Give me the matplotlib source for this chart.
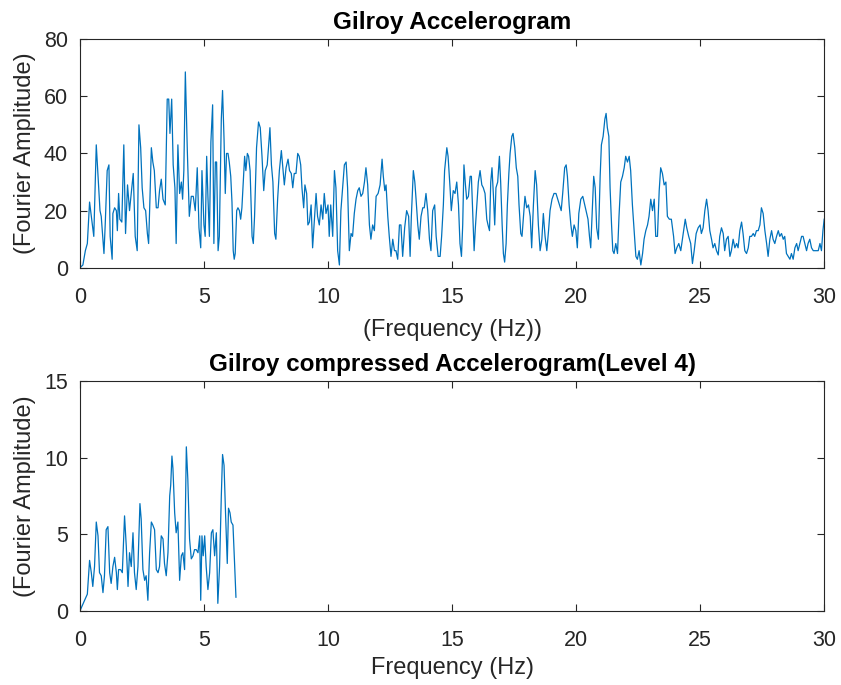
import numpy as np
import matplotlib
matplotlib.use("Agg")
import matplotlib.pyplot as plt

# ==========================================
# data
# ==========================================
# top panel: original accelerogram spectrum, 0-30 Hz
freq_top = [
    0.00, 0.12, 0.22, 0.30, 0.39, 0.46, 0.52, 0.56, 0.66, 0.75,
    0.81, 0.86, 0.91, 0.97, 1.02, 1.10, 1.17, 1.22, 1.30, 1.33,
    1.40, 1.47, 1.51, 1.56, 1.61, 1.69, 1.77, 1.84, 1.92, 2.00,
    2.07, 2.15, 2.23, 2.31, 2.38, 2.45, 2.51, 2.58, 2.65, 2.72,
    2.77, 2.81, 2.88, 2.94, 3.00, 3.08, 3.15, 3.21, 3.28, 3.35,
    3.44, 3.52, 3.58, 3.63, 3.70, 3.76, 3.83, 3.88, 3.95, 4.02,
    4.09, 4.14, 4.19, 4.25, 4.33, 4.41, 4.49, 4.57, 4.65, 4.73,
    4.80, 4.87, 4.92, 5.00,
    5.05, 5.11, 5.16, 5.22, 5.28, 5.35, 5.40, 5.46, 5.51, 5.57,
    5.62, 5.70, 5.75, 5.81, 5.86, 5.91, 5.97, 6.02, 6.08, 6.13,
    6.18, 6.22, 6.26, 6.32, 6.37, 6.43, 6.48, 6.53, 6.59, 6.64,
    6.69, 6.75, 6.80, 6.86, 6.94, 6.99, 7.04, 7.12, 7.20, 7.27,
    7.34, 7.41, 7.47, 7.55, 7.66, 7.72, 7.78, 7.85, 7.90, 7.97,
    8.04, 8.12, 8.17, 8.24, 8.31, 8.39, 8.45, 8.52, 8.58, 8.64,
    8.71, 8.78, 8.84, 8.90, 8.95, 9.02, 9.07, 9.14, 9.19, 9.25,
    9.32, 9.38, 9.44, 9.52, 9.58, 9.65, 9.72, 9.79, 9.85, 9.92,
    10.00,
    10.05, 10.11, 10.19, 10.26, 10.32, 10.39, 10.46, 10.52, 10.59, 10.66,
    10.73, 10.79, 10.86, 10.93, 10.99, 11.06, 11.13, 11.20, 11.26, 11.33,
    11.40, 11.47, 11.53, 11.60, 11.67, 11.73, 11.80, 11.87, 11.94, 12.02,
    12.10, 12.18, 12.23, 12.29, 12.34, 12.41, 12.47, 12.54, 12.61, 12.68,
    12.74, 12.81, 12.88, 12.94, 13.01, 13.09, 13.17, 13.25, 13.31, 13.36,
    13.44, 13.50, 13.55, 13.62, 13.68, 13.75, 13.82, 13.88, 13.95, 14.02,
    14.09, 14.15, 14.22, 14.30, 14.36, 14.44, 14.52, 14.58, 14.65, 14.70,
    14.79, 14.84, 14.92, 14.97,
    15.05, 15.12, 15.19, 15.26, 15.32, 15.38, 15.43, 15.48, 15.54, 15.59,
    15.66, 15.73, 15.78, 15.83, 15.89, 15.94, 16.00, 16.06, 16.13, 16.20,
    16.26, 16.33, 16.40, 16.45, 16.51, 16.56, 16.61, 16.67, 16.72, 16.77,
    16.84, 16.91, 16.96, 17.02, 17.07, 17.12, 17.18, 17.23, 17.29, 17.34,
    17.41, 17.46, 17.53, 17.59, 17.65, 17.70, 17.77, 17.82, 17.88, 17.94,
    18.01, 18.08, 18.15, 18.21, 18.28, 18.35, 18.41, 18.48, 18.55, 18.62,
    18.68, 18.75, 18.82, 18.89, 18.95, 19.03, 19.11, 19.19, 19.26, 19.33,
    19.40, 19.46, 19.54, 19.60, 19.65, 19.72, 19.79, 19.85, 19.92, 19.99,
    20.05, 20.11, 20.19, 20.27, 20.35, 20.43, 20.48, 20.54, 20.59, 20.66,
    20.71, 20.77, 20.83, 20.90, 20.97, 21.02, 21.09, 21.16, 21.21, 21.26,
    21.32, 21.37, 21.43, 21.48, 21.53, 21.60, 21.67, 21.73, 21.80, 21.87,
    21.94, 22.00, 22.07, 22.14, 22.20, 22.27, 22.34, 22.41, 22.47, 22.54,
    22.61, 22.68, 22.74, 22.81, 22.88, 22.94, 23.01, 23.08, 23.15, 23.21,
    23.28, 23.35, 23.41, 23.48, 23.55, 23.62, 23.68, 23.76, 23.84, 23.93,
    23.99, 24.06, 24.14, 24.22, 24.30, 24.40, 24.46, 24.54, 24.62, 24.69,
    24.76, 24.84, 24.92, 25.00,
    25.05, 25.12, 25.19, 25.26, 25.32, 25.39, 25.46, 25.52, 25.59, 25.66,
    25.73, 25.79, 25.86, 25.93, 25.99, 26.06, 26.13, 26.20, 26.26, 26.33,
    26.40, 26.47, 26.53, 26.60, 26.67, 26.73, 26.80, 26.87, 26.94, 27.00,
    27.07, 27.14, 27.20, 27.27, 27.34, 27.41, 27.47, 27.54, 27.61, 27.68,
    27.74, 27.81, 27.88, 27.94, 28.01, 28.08, 28.15, 28.21, 28.28, 28.35,
    28.41, 28.48, 28.55, 28.62, 28.68, 28.75, 28.82, 28.89, 28.95, 29.02,
    29.09, 29.15, 29.22, 29.29, 29.35, 29.42, 29.49, 29.56, 29.62, 29.69,
    29.76, 29.83, 29.89, 29.95, 30.00,
]
amp_top = [
    0, 1, 6, 8.5, 23, 18, 14, 11, 43, 29,
    20, 18, 12, 5, 15, 34, 36, 11, 3, 19,
    21, 20, 13, 26, 17, 16, 43, 12, 29, 20,
    26, 33, 11, 6, 50, 42, 28, 21, 20, 12,
    8.5, 20, 42, 37, 34, 21, 21, 27, 31, 24,
    22, 59, 59, 47, 59, 36, 28, 8.5, 43, 26,
    30, 24, 34, 68.5, 41, 18, 25, 25, 20, 35,
    14, 7, 34, 15,
    11, 39, 25, 11, 44, 57, 8.5, 37, 37, 6,
    11, 52, 62, 45, 26, 40, 40, 37, 32, 23,
    6, 3, 5, 20, 21, 20, 17, 21, 31, 39,
    34, 40, 39, 34, 11, 8.5, 18, 42, 51, 49,
    39, 27, 34, 36, 49, 36, 30, 12, 10, 24,
    34, 41, 36, 29, 35, 38, 34, 33, 28, 33,
    33, 40, 39, 36, 28, 21, 29, 26, 15, 16,
    22, 7, 15, 26, 18, 15, 22, 17, 26, 19,
    22,
    11, 22, 11, 34, 28, 6, 1, 20, 28, 36,
    37, 28, 6, 12, 11, 19, 24, 27, 28, 25,
    26, 30, 35, 29, 15, 10, 15, 13, 25, 26,
    29, 38, 32, 27, 29, 18, 11, 4, 10, 6,
    6, 3, 15, 15, 4, 14, 20, 18, 4, 18,
    34, 30, 24, 15, 10, 18, 21, 21, 26, 20,
    10, 6, 20, 22, 11, 4, 4, 11, 22, 34,
    42, 39, 28, 20,
    27, 26, 30, 22, 8.5, 4, 15, 36, 29, 24,
    25, 32, 32, 20, 6, 14, 22, 30, 34, 29,
    28, 26, 17, 15, 13, 30, 35, 25, 15, 28,
    30, 39, 30, 15, 5, 2, 8.5, 22, 33, 40,
    46, 47, 42, 35, 32, 22, 12, 11, 18, 25,
    21, 22, 18, 7, 22, 34, 29, 15, 6, 10,
    19, 11, 6, 13, 20, 24, 26, 26, 24, 22,
    20, 26, 35, 36, 32, 22, 15, 11, 15, 13,
    7, 19, 24, 25, 22, 19, 17, 11, 7, 22,
    32, 28, 14, 10, 32, 43, 46, 52, 54, 49,
    46, 28, 15, 6, 5, 8.5, 5, 18, 30, 32,
    35, 39, 37, 39, 34, 22, 13, 4, 3, 6,
    1, 5, 10, 13, 15, 18, 24, 20, 24, 11,
    11, 27, 35, 33, 29, 30, 18, 17, 17, 11,
    5, 7, 8.5, 6, 11, 17, 14, 11, 8.5, 1.5,
    6, 12, 14, 15,
    12, 14, 20, 24, 20, 13, 10, 7, 8.5, 6,
    4.5, 11, 14, 12, 6, 10, 11, 4, 6, 10,
    7, 8.5, 7, 13, 16, 12, 6, 5, 7, 11,
    11, 12, 11, 13, 13, 15, 21, 19, 13, 8.5,
    4, 10, 13, 10, 8.5, 11, 13, 11, 12, 10,
    11, 5, 4, 3, 5, 3, 7, 8.5, 6, 8.5,
    11, 11, 8.5, 6, 8.5, 10, 7, 6, 6, 6,
    6, 8.5, 6, 13, 17,
]

# bottom panel: compressed accelerogram (level 4), 0-6.3 Hz
freq_bot = [
    0.00, 0.19, 0.30, 0.39, 0.46, 0.52, 0.59, 0.66, 0.73, 0.79,
    0.86, 0.93, 0.99, 1.06, 1.13, 1.20, 1.26, 1.33, 1.40, 1.47,
    1.51, 1.56, 1.64, 1.71, 1.80, 1.87, 1.94, 2.00, 2.07, 2.14,
    2.20, 2.27, 2.34, 2.42, 2.47, 2.54, 2.61, 2.67, 2.74, 2.81,
    2.88, 2.94, 3.01, 3.08, 3.15, 3.21, 3.28, 3.35, 3.41, 3.48,
    3.55, 3.62, 3.66, 3.71, 3.75, 3.82, 3.88, 3.95, 4.02, 4.09,
    4.15, 4.22, 4.29, 4.35, 4.42, 4.49, 4.56, 4.62, 4.69, 4.76,
    4.83, 4.87, 4.92, 4.97, 5.03, 5.09, 5.16, 5.23, 5.30, 5.36,
    5.43, 5.50, 5.56, 5.63, 5.70, 5.75, 5.81, 5.87, 5.94, 5.99,
    6.05, 6.10, 6.17, 6.24, 6.29,
]
amp_bot = [
    0.0, 0.7, 1.1, 3.3, 2.5, 1.6, 2.9, 5.8, 4.9, 2.5,
    2.3, 1.2, 2.3, 5.3, 5.5, 2.5, 1.8, 2.9, 3.5, 2.5,
    1.4, 2.7, 2.7, 2.5, 6.2, 4.2, 1.6, 3.8, 2.9, 5.1,
    2.5, 1.4, 2.9, 7.0, 6.0, 2.7, 2.0, 2.3, 0.7, 3.8,
    5.8, 5.6, 5.3, 2.7, 2.5, 2.9, 4.9, 4.7, 3.1, 2.3,
    3.8, 7.5, 8.2, 10.1, 9.3, 6.4, 5.1, 5.8, 2.0, 3.6,
    3.8, 2.7, 10.7, 8.6, 4.7, 3.4, 3.6, 4.0, 4.0, 3.8,
    4.9, 0.7, 4.9, 3.6, 4.9, 2.9, 1.4, 2.5, 5.1, 5.3,
    3.6, 5.1, 0.5, 2.9, 7.5, 10.2, 9.5, 6.4, 3.1, 6.7,
    6.4, 5.8, 5.6, 2.9, 0.9,
]

x_ticks = [0, 5, 10, 15, 20, 25, 30]
y_ticks_top = [0, 20, 40, 60, 80]
y_ticks_bot = [0, 5, 10, 15]

# ==========================================
# matlab-ish look
# ==========================================
plt.rcParams['font.family'] = ['Liberation Sans', 'DejaVu Sans']
LINE = '#0072BD'
DARK = '#262626'


def style_axes(ax, yticks):
    ax.set_xlim(0, 30)
    ax.set_ylim(yticks[0], yticks[-1])
    ax.set_xticks(x_ticks)
    ax.set_yticks(yticks)
    ax.tick_params(direction='in', length=5, width=0.8, top=True, right=True,
                   colors=DARK, labelsize=15.5)
    ax.tick_params(axis='x', pad=14)
    ax.tick_params(axis='y', pad=8.5)
    for s in ax.spines.values():
        s.set_color(DARK)
        s.set_linewidth(0.8)


fig = plt.figure(figsize=(8.41, 6.85), dpi=100)
ax1 = fig.add_axes([0.095, 0.609, 0.885, 0.334])
ax2 = fig.add_axes([0.095, 0.108, 0.885, 0.336])

ax1.plot(freq_top, amp_top, color=LINE, lw=0.9)
style_axes(ax1, y_ticks_top)
ax1.set_title('Gilroy Accelerogram', fontsize=17.5, fontweight='bold', pad=7)
ax1.set_xlabel('(Frequency (Hz))', fontsize=17, color=DARK, labelpad=8)
ax1.set_ylabel('(Fourier Amplitude)', fontsize=17, color=DARK, labelpad=6)

ax2.plot(freq_bot, amp_bot, color=LINE, lw=0.9)
style_axes(ax2, y_ticks_bot)
ax2.set_title('Gilroy compressed Accelerogram(Level 4)', fontsize=17.5,
              fontweight='bold', pad=7)
ax2.set_xlabel('Frequency (Hz)', fontsize=17, color=DARK, labelpad=4)
ax2.set_ylabel('(Fourier Amplitude)', fontsize=17, color=DARK, labelpad=6)

fig.savefig('out.png', dpi=100)
